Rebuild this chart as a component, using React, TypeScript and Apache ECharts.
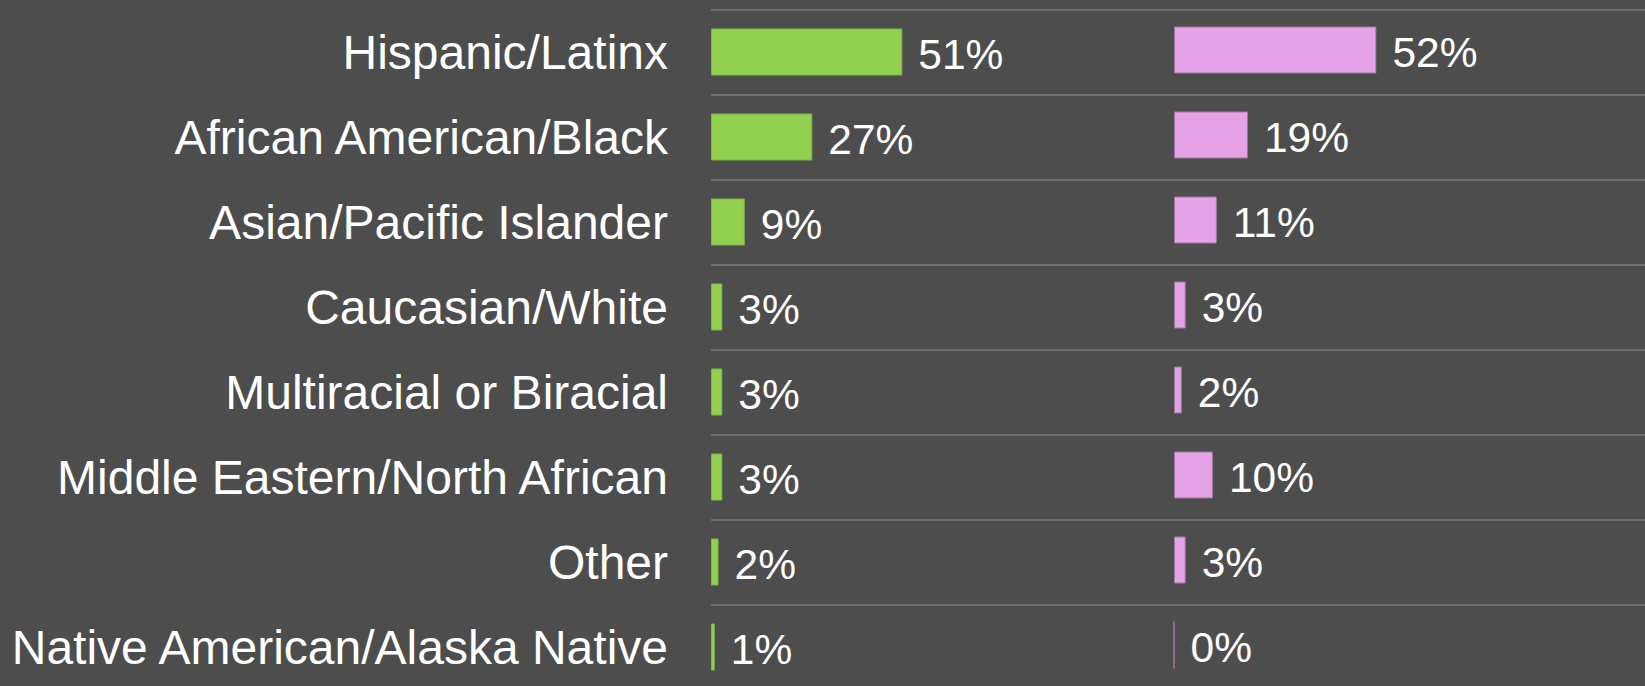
import React, { useEffect, useRef } from "react";
import * as echarts from "echarts";

const categories = [
  "Hispanic/Latinx",
  "African American/Black",
  "Asian/Pacific Islander",
  "Caucasian/White",
  "Multiracial or Biracial",
  "Middle Eastern/North African",
  "Other",
  "Native American/Alaska Native",
];

const greenValues = [51, 27, 9, 3, 3, 3, 2, 1];
const pinkValues = [52, 19, 11, 3, 2, 10, 3, 0];

const FONT = "Arial";

export default function App() {
  const ref = useRef<HTMLDivElement>(null);

  useEffect(() => {
    document.body.style.margin = "0";
    if (!ref.current) return;
    const chart = echarts.init(ref.current, null, { renderer: "svg" });
    const valueLabel = {
      show: true,
      position: "right",
      distance: 16,
      offset: [0, 2],
      formatter: "{c}%",
      fontSize: 42.5,
      color: "#ffffff",
      fontFamily: FONT,
    };
    chart.setOption({
      animation: false,
      backgroundColor: "#4d4d4d",
      textStyle: { fontFamily: FONT },
      grid: [
        { left: 711, right: 0, top: 9.5, height: 680, outerBoundsMode: "none", containLabel: false },
        { left: 1174, right: 0, top: 7.5, height: 680, outerBoundsMode: "none", containLabel: false },
      ],
      xAxis: [
        { type: "value", gridIndex: 0, min: 0, max: 249, show: false },
        { type: "value", gridIndex: 1, min: 0, max: 121, show: false },
      ],
      yAxis: [
        {
          type: "category",
          gridIndex: 0,
          data: categories,
          inverse: true,
          axisLine: { show: false },
          axisTick: { show: false },
          axisLabel: {
            fontSize: 48,
            color: "#ffffff",
            margin: 43,
            fontFamily: FONT,
          },
          splitLine: {
            show: true,
            interval: 0,
            lineStyle: { color: "#6e6e6e", width: 2 },
          },
        },
        {
          type: "category",
          gridIndex: 1,
          data: categories,
          inverse: true,
          axisLine: { show: false },
          axisTick: { show: false },
          axisLabel: { show: false },
          splitLine: { show: false },
        },
      ],
      series: [
        {
          type: "bar",
          xAxisIndex: 0,
          yAxisIndex: 0,
          data: greenValues,
          barWidth: 47,
          itemStyle: { color: "#92d050", borderColor: "#7fb848", borderWidth: 1 },
          label: valueLabel,
        },
        {
          type: "bar",
          xAxisIndex: 1,
          yAxisIndex: 1,
          data: pinkValues,
          barWidth: 47,
          itemStyle: { color: "#e6a2e6", borderColor: "#9e7b9e", borderWidth: 1 },
          label: valueLabel,
        },
      ],
    });
    return () => chart.dispose();
  }, []);

  return <div ref={ref} style={{ width: 1645, height: 686 }} />;
}
